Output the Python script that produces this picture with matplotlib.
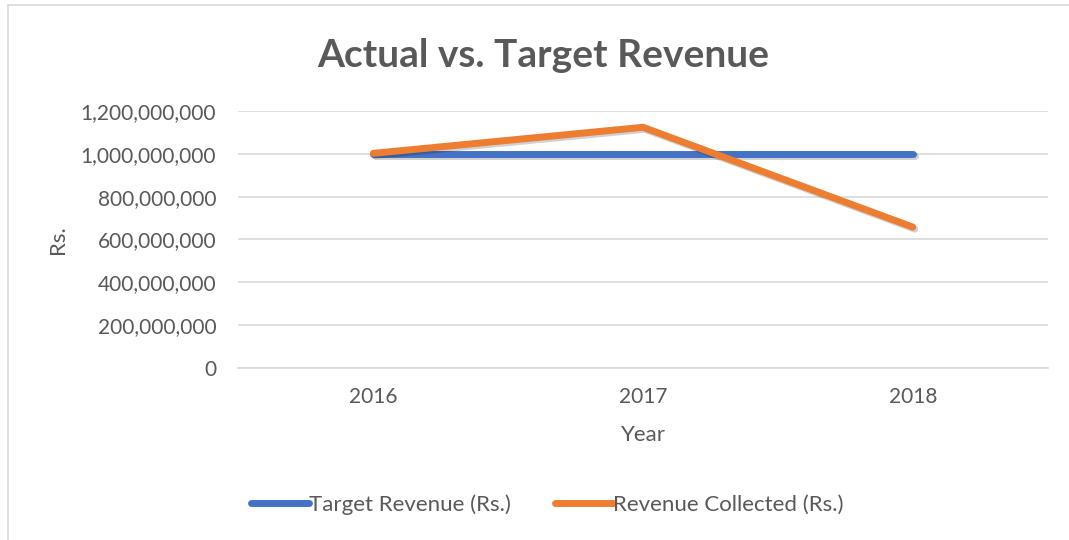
import matplotlib
matplotlib.use("Agg")
import matplotlib.pyplot as plt
from matplotlib.ticker import FuncFormatter
from matplotlib.patches import Rectangle
import matplotlib.patheffects as pe

years = ["2016", "2017", "2018"]
target_revenue = [1000000000, 1000000000, 1000000000]
revenue_collected = [1003000000, 1125000000, 658000000]
y_ticks = [0, 200000000, 400000000, 600000000, 800000000, 1000000000, 1200000000]

plt.rcParams['font.family'] = ['Lato', 'DejaVu Sans']
TXT = '#595959'

fig = plt.figure(figsize=(10.69, 5.40), dpi=100)
ax = fig.add_axes([0.223, 0.319, 0.757, 0.475])

shadow = [pe.SimpleLineShadow(offset=(1.5, -1.5), shadow_color='black', alpha=0.18), pe.Normal()]
x = list(range(len(years)))
ax.plot(x, target_revenue, color='#4472C4', lw=5, solid_capstyle='round',
        label='Target Revenue (Rs.)', zorder=3, path_effects=shadow)
ax.plot(x, revenue_collected, color='#ED7D31', lw=5, solid_capstyle='round',
        solid_joinstyle='miter', label='Revenue Collected (Rs.)', zorder=4, path_effects=shadow)

ax.set_xlim(-0.5, 2.5)
ax.set_ylim(0, 1200000000)
ax.set_yticks(y_ticks)
ax.yaxis.set_major_formatter(FuncFormatter(lambda v, p: f"{int(v):,}"))
ax.set_xticks(x)
ax.set_xticklabels(years)
ax.grid(axis='y', color='#D9D9D9', lw=1.2)
ax.set_axisbelow(True)
for s in ['top', 'right', 'left']:
    ax.spines[s].set_visible(False)
ax.spines['bottom'].set_color('#D9D9D9')
ax.spines['bottom'].set_linewidth(1.2)
ax.tick_params(axis='both', length=0, colors=TXT, labelsize=15)
ax.tick_params(axis='y', pad=16)
ax.tick_params(axis='x', pad=14)

ax.set_xlabel('Year', fontsize=16, color=TXT, labelpad=13)
ax.set_ylabel('Rs.', fontsize=16, color=TXT)
ax.yaxis.set_label_coords(-0.211, 0.5)

fig.text(0.508, 0.898, 'Actual vs. Target Revenue', ha='center', va='center',
         fontsize=28, fontweight='bold', color=TXT)

leg = fig.legend(loc='center', bbox_to_anchor=(0.512, 0.065), ncol=2, frameon=False,
                 fontsize=16, labelcolor=TXT, handlelength=2.6, handletextpad=0.0,
                 columnspacing=2.0)
for h in leg.get_lines():
    h.set_linewidth(5)
    h.set_path_effects([])
    h.set_solid_capstyle('round')

# outer chart border
fig.patches.append(Rectangle((0.0075, -0.05), 1.1, 1.04, transform=fig.transFigure,
                             fill=False, edgecolor='#D9D9D9', lw=1.2))

fig.savefig('out.png', dpi=100)
